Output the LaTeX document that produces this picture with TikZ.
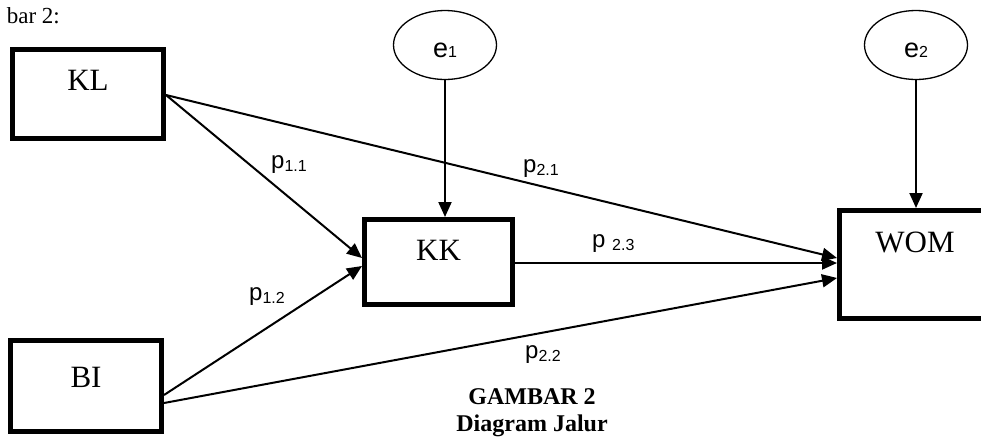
\documentclass[tikz,border=0pt]{standalone}
\usepackage{fontspec}
\setmainfont{Liberation Serif}
\newfontfamily\arialf{Liberation Sans}
\usetikzlibrary{arrows.meta,shapes.geometric}
\newcommand\pathsub[1]{\raisebox{-3pt}{\fontsize{16}{16}\selectfont #1}}
\begin{document}
\begin{tikzpicture}[x=1pt,y=-1pt,
  box/.style={draw, line width=5pt, inner sep=0pt, minimum width=151pt,
    font=\fontsize{31}{31}\selectfont, anchor=base},
  errnode/.style={draw, ellipse, line width=1.3pt, inner sep=0pt,
    minimum width=103pt, minimum height=69pt, text height=24pt, text depth=0pt,
    font=\arialf\fontsize{27}{27}\selectfont},
  conn/.style={line width=2pt, -{Triangle[length=15pt,width=13pt]}},
  plbl/.style={anchor=base west, inner sep=0pt, font=\arialf\fontsize{24}{24}\selectfont},
  captxt/.style={anchor=base, inner sep=0pt, font=\bfseries\fontsize{24}{24}\selectfont}
]
\useasboundingbox (0,0) rectangle (981,437);

% title fragment
\node[anchor=base east, inner sep=0pt, font=\fontsize{23}{23}\selectfont] (fig) at (60,23) {bar 2:};

% boxes
\node[box, text height=40.5pt, text depth=48.5pt] (KL) at (88,90) {KL};
\node[box, text height=46.5pt, text depth=44.5pt] (BI) at (86,387) {BI};
\node[box, minimum width=148pt, text height=40.5pt, text depth=44.5pt] (KK) at (438.5,260) {KK};
\node[box, text height=41.5pt, text depth=66.5pt] (WOM) at (915,252) {WOM};

% error terms
\node[errnode] (e1) at (445,45) {e\pathsub{\raisebox{3pt}{1}}};
\node[errnode] (e2) at (916,45) {e\pathsub{\raisebox{3pt}{2}}};

% connectors
\draw[conn] (e1.south) -- (e1.south |- KK.north);
\draw[conn] (e2.south) -- (e2.south |- WOM.north);
\draw[conn] ([yshift=-1pt]KL.east) -- ([yshift=4pt]KK.west);
\draw[conn] ([yshift=-1pt]KL.east) -- ([yshift=6.5pt]WOM.west);
\draw[conn] ([yshift=-9pt]BI.east) -- ([yshift=-4pt]KK.west);
\draw[conn] ([yshift=-17pt]BI.east) -- ([yshift=-13.5pt]WOM.west);
\draw[conn] ([yshift=-1pt]KK.east) -- ([yshift=1.5pt]WOM.west);

% path labels
\node[plbl] (p11) at (271,168) {p\pathsub{1.1}};
\node[plbl] (p12) at (249,300) {p\pathsub{1.2}};
\node[plbl] (p21) at (523,172) {p\pathsub{2.1}};
\node[plbl] (p23) at (592,247) {p \pathsub{2.3}};
\node[plbl] (p22) at (525,358) {p\pathsub{2.2}};

% caption
\node[captxt] (cap1) at (532,404) {GAMBAR 2};
\node[captxt] (cap2) at (532,431) {Diagram Jalur};
\end{tikzpicture}
\end{document}
